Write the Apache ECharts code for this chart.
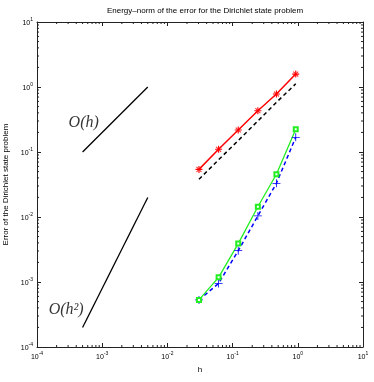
<!DOCTYPE html>
<html>
<head>
<meta charset="utf-8">
<script src="https://cdn.jsdelivr.net/npm/echarts@6/dist/echarts.min.js"></script>
<style>
  html, body { margin: 0; padding: 0; background: #fff; }
  #main { width: 374px; height: 382px; }
</style>
</head>
<body>
<div id="main"></div>
<script>
// mesh sizes h
var hValues = [0.0305, 0.061, 0.122, 0.244, 0.47, 0.93]
// energy-norm errors
var redErr = [0.054, 0.110, 0.218, 0.432, 0.78, 1.58]
var blackDash = [0.038, 0.076, 0.15, 0.30, 0.58, 1.12]
var greenErr = [0.00053, 0.00118, 0.0039, 0.0144, 0.0454, 0.223]
var blueDash = [0.00053, 0.00095, 0.00303, 0.0104, 0.033, 0.168]
// reference slopes
var refH = [[0.0005, 0.1], [0.005, 1]]
var refH2 = [[0.0005, 0.0002], [0.005, 0.02]]
var refLabels = [[0.00052, 0.28, 'O(h)'], [0.00028, 0.00037, 'O(h\u00b2)']]
// minor ticks (mantissas per decade)
var minorMant = [2, 3, 4, 5, 6, 7, 8, 9]
var decades = [-4, -3, -2, -1, 0]

var xMin = 1e-4, xMax = 10, yMin = 1e-4, yMax = 10

var minorVals = []
decades.forEach(function (d) {
    minorMant.forEach(function (m) { minorVals.push(m * Math.pow(10, d)) })
})

function zip (xs, ys) {
    return xs.map(function (x, i) { return [x, ys[i]] })
}

var plusPath = 'path://M4.5,0h1v4.5h4.5v1h-4.5v4.5h-1v-4.5h-4.5v-1h4.5z'
var plusBold = 'path://M4.2,0h1.6v4.2h4.2v1.6h-4.2v4.2h-1.6v-4.2h-4.2v-1.6h4.2z'

var tickFmt = function (v) {
    var e = Math.round(Math.log10(v))
    return '{b|10}{s|' + e + '}'
}
var tickRich = {
    b: { fontSize: 7, color: '#000', lineHeight: 10, verticalAlign: 'bottom', fontFamily: 'Liberation Sans' },
    s: { fontSize: 5, color: '#000', lineHeight: 10, verticalAlign: 'top', fontFamily: 'Liberation Sans' }
}

function baseAxis (pos, show) {
    return {
        type: 'log',
        logBase: 10,
        position: pos,
        interval: 1,
        axisLine: { show: true, lineStyle: { color: '#222', width: 1 } },
        axisTick: { show: true, inside: true, length: 4, lineStyle: { color: '#222' } },
        axisLabel: { show: show, formatter: tickFmt, rich: tickRich, margin: 4 },
        splitLine: { show: false },
        minorTick: { show: false }
    }
}

var xBottom = Object.assign(baseAxis('bottom', true), {
    min: xMin, max: xMax,
    name: 'h', nameLocation: 'middle', nameGap: 19,
    nameTextStyle: { fontSize: 8, color: '#000', fontFamily: 'Liberation Sans' }
})
var xTop = Object.assign(baseAxis('top', false), { min: xMin, max: xMax })
var yLeft = Object.assign(baseAxis('left', true), {
    min: yMin, max: yMax,
    name: 'Error of the Dirichlet state problem', nameLocation: 'middle', nameGap: 25,
    nameTextStyle: { fontSize: 8, color: '#000', fontFamily: 'Liberation Sans' }
})
var yRight = Object.assign(baseAxis('right', false), { min: yMin, max: yMax })

var minorX = {
    type: 'custom',
    silent: true,
    clip: false,
    data: minorVals.map(function (v) { return [v, yMin] }),
    renderItem: function (params, api) {
        var b = api.coord([api.value(0), yMin])
        var t = api.coord([api.value(0), yMax])
        var st = { stroke: '#222', lineWidth: 1 }
        return { type: 'group', children: [
            { type: 'line', shape: { x1: b[0], y1: b[1], x2: b[0], y2: b[1] - 2 }, style: st },
            { type: 'line', shape: { x1: t[0], y1: t[1], x2: t[0], y2: t[1] + 2 }, style: st }
        ] }
    }
}
var minorY = {
    type: 'custom',
    silent: true,
    clip: false,
    data: minorVals.map(function (v) { return [xMin, v] }),
    renderItem: function (params, api) {
        var l = api.coord([xMin, api.value(1)])
        var r = api.coord([xMax, api.value(1)])
        var st = { stroke: '#222', lineWidth: 1 }
        return { type: 'group', children: [
            { type: 'line', shape: { x1: l[0], y1: l[1], x2: l[0] + 2, y2: l[1] }, style: st },
            { type: 'line', shape: { x1: r[0], y1: r[1], x2: r[0] - 2, y2: r[1] }, style: st }
        ] }
    }
}

var option = {
    animation: false,
    backgroundColor: '#fff',
    title: {
        text: 'Energy\u2013norm of the error for the Dirichlet state problem',
        left: 200, top: 2, textAlign: 'center',
        textStyle: { fontSize: 8, fontWeight: 'normal', color: '#000', fontFamily: 'Liberation Sans' }
    },
    grid: { left: 37, right: 11, top: 22, bottom: 35, containLabel: false, outerBoundsMode: 'none' },
    xAxis: [xBottom, xTop],
    yAxis: [yLeft, yRight],
    series: [
        minorX,
        minorY,
        {
            type: 'line', data: refH, symbol: 'none',
            lineStyle: { color: '#000', width: 1.3 }
        },
        {
            type: 'line', data: refH2, symbol: 'none',
            lineStyle: { color: '#000', width: 1.3 }
        },
        {
            type: 'scatter', data: refLabels, symbolSize: 1,
            itemStyle: { color: 'rgba(0,0,0,0)' },
            label: {
                show: true, position: 'inside',
                formatter: function (p) { return p.data[2] },
                fontFamily: 'Liberation Serif', fontStyle: 'italic',
                fontSize: 16, color: '#000'
            }
        },
        {
            type: 'line', data: zip(hValues, blackDash), symbol: 'none',
            lineStyle: { color: '#000', width: 1.5, type: [4, 3] }
        },
        {
            type: 'line', data: zip(hValues, redErr),
            symbol: plusBold, symbolSize: 7,
            itemStyle: { color: '#ff0000' },
            lineStyle: { color: '#ff0000', width: 1.5 }
        },
        {
            type: 'scatter', data: zip(hValues, redErr),
            symbol: plusBold, symbolSize: 7, symbolRotate: 45,
            itemStyle: { color: '#ff0000' }
        },
        {
            type: 'line', data: zip(hValues, blueDash),
            symbol: plusPath, symbolSize: 8,
            itemStyle: { color: '#0000ff' },
            lineStyle: { color: '#0000ff', width: 1.5, type: [4, 3] }
        },
        {
            type: 'line', data: zip(hValues, greenErr),
            symbol: 'emptyRect', symbolSize: 4,
            itemStyle: { color: '#22ee22', borderColor: '#22ee22', borderWidth: 0.8 },
            lineStyle: { color: '#22ee22', width: 1.3 }
        }
    ]
}

var chart = echarts.init(document.getElementById('main'))
chart.setOption(option)
</script>
</body>
</html>
